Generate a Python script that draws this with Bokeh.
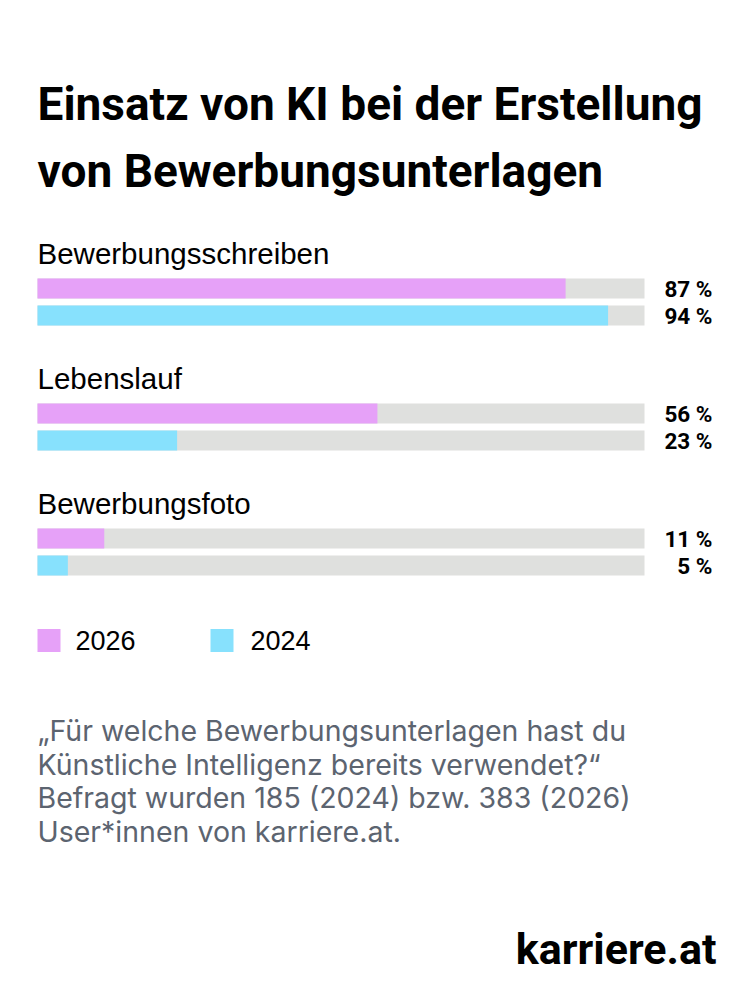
from bokeh.plotting import figure
from bokeh.models import Range1d, ColumnDataSource
from bokeh.core.properties import value
from bokeh.embed import file_html
from bokeh.resources import INLINE

# Survey results (share of users in %)
categories = ["Bewerbungsschreiben", "Lebenslauf", "Bewerbungsfoto"]
share_2026 = [87, 56, 11]
share_2024 = [94, 23, 5]
years = ["2026", "2024"]

title_lines = ["Einsatz von KI bei der Erstellung", "von Bewerbungsunterlagen"]
note_lines = [
    "\u201eF\u00fcr welche Bewerbungsunterlagen hast du",
    "K\u00fcnstliche Intelligenz bereits verwendet?\u201c",
    "Befragt wurden 185 (2024) bzw. 383 (2026)",
    "User*innen von karriere.at.",
]
brand = "karriere.at"

PINK = "#e6a1f8"
BLUE = "#87e1fd"
TRACK = "#dfe0de"
NOTE = "#5c6470"

W, H = 750, 1000
LEFT_PX, TRACK_PX = 37, 607          # bar area: starts at 37 px, 607 px for 100 %
PX = TRACK_PX / 100.0                 # pixels per percentage point

p = figure(width=W, height=H, output_backend="svg", toolbar_location=None,
           x_range=Range1d(-LEFT_PX / PX, (W - LEFT_PX) / PX),
           y_range=Range1d(H, 0), min_border=0)
p.axis.visible = False
p.grid.visible = False
p.outline_line_color = None
p.background_fill_color = "white"
p.border_fill_color = "white"

def xpx(px):
    return (px - LEFT_PX) / PX

HEAVY = "Roboto"
BODY = "Liberation Sans"

# Title
p.text(x=[xpx(37)] * 2, y=[103, 170], text=title_lines,
       text_font=value(HEAVY), text_font_style="bold",
       text_font_size="46px", text_baseline="alphabetic", text_color="black")

# Bars
group_top = [253 + 125 * i for i in range(len(categories))]
y26 = [g + 35 for g in group_top]
y24 = [g + 62 for g in group_top]

p.text(x=[xpx(37)] * 3, y=group_top, text=categories,
       text_font=value(BODY), text_font_size="29.5px",
       text_baseline="middle", text_color="black")

src = ColumnDataSource(dict(y26=y26, y24=y24, v26=share_2026, v24=share_2024,
                            l26=[f"{v} %" for v in share_2026],
                            l24=[f"{v} %" for v in share_2024],
                            full=[100] * 3))
p.hbar(y="y26", left=0, right="full", height=20, source=src, fill_color=TRACK, line_color=None)
p.hbar(y="y24", left=0, right="full", height=20, source=src, fill_color=TRACK, line_color=None)
p.hbar(y="y26", left=0, right="v26", height=20, source=src, fill_color=PINK, line_color=None)
p.hbar(y="y24", left=0, right="v24", height=20, source=src, fill_color=BLUE, line_color=None)

lx = xpx(712)
for ycol, lcol in (("y26", "l26"), ("y24", "l24")):
    p.text(x=lx, y=ycol, text=lcol, source=src,
           text_font=value(HEAVY), text_font_style="bold",
           text_font_size="22.5px", text_align="right", text_baseline="middle",
           text_color="black")

# Legend
p.rect(x=[xpx(48.5), xpx(221.5)], y=[640, 640], width=23 / PX, height=23,
       fill_color=[PINK, BLUE], line_color=None)
p.text(x=[xpx(75), xpx(250)], y=[640, 640], text=years,
       text_font=value(BODY), text_font_size="27px",
       text_baseline="middle", text_color="black")

# Footnote
p.text(x=[xpx(37)] * 4, y=[730 + 33.6 * i for i in range(4)], text=note_lines,
       text_font=value("Inter"), text_font_size="28.5px",
       text_baseline="middle", text_color=NOTE)

# Brand
p.text(x=[xpx(716)], y=[948], text=[brand],
       text_font=value(HEAVY), text_font_style="bold",
       text_font_size="43px", text_align="right", text_baseline="alphabetic",
       text_color="black")

open("out.html", "w").write(file_html(p, INLINE))
